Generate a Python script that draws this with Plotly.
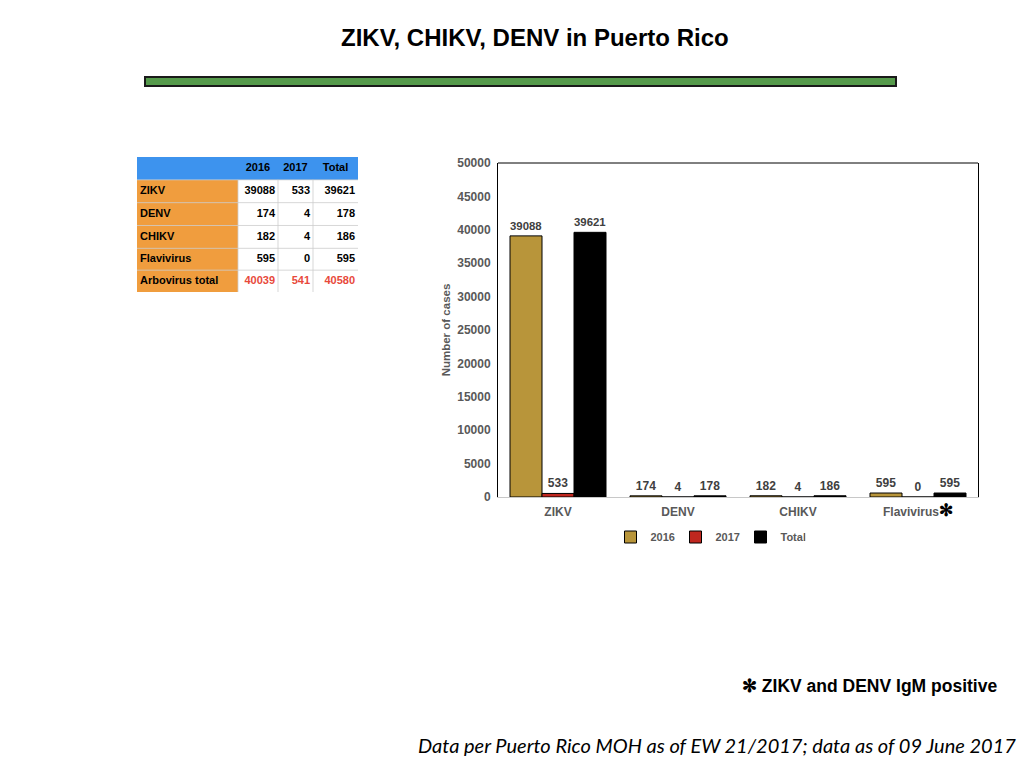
import plotly.graph_objects as go

categories = ["ZIKV", "DENV", "CHIKV", "Flavivirus"]
tick_labels = ["ZIKV", "DENV", "CHIKV", "Flavivirus<span style='color:#000000;font-size:17px'>✻</span>"]
series_names = ["2016", "2017", "Total"]
values_2016 = [39088, 174, 182, 595]
values_2017 = [533, 4, 4, 0]
values_total = [39621, 178, 186, 595]
colors = ["#b8953a", "#c0271f", "#000000"]

table_header = ["", "2016", "2017", "Total"]
table_rows = ["ZIKV", "DENV", "CHIKV", "Flavivirus", "Arbovirus total"]
table_2016 = [39088, 174, 182, 595, 40039]
table_2017 = [533, 4, 4, 0, 541]
table_total = [39621, 178, 186, 595, 40580]
y_ticks = [0, 5000, 10000, 15000, 20000, 25000, 30000, 35000, 40000, 45000, 50000]

# table layout (pixel widths/heights of columns and rows)
col_widths = [101, 40, 35, 45]
row_heights = [23, 23, 23, 23, 22, 22]

W, H = 1024, 768
def px(x):
    return x / W
def py(y):
    return 1 - y / H

gray = "#595959"
fig = go.Figure()

# ---------------- bar chart ----------------
for name, vals, col in zip(series_names, [values_2016, values_2017, values_total], colors):
    fig.add_trace(go.Bar(
        name="<b>%s</b>" % name, x=categories, y=vals,
        marker=dict(color=col, line=dict(color="#000000", width=1)),
        text=["<b>%d</b>" % v for v in vals], textposition="outside", cliponaxis=False,
        textfont=dict(family="Liberation Sans, Arial", size=12, color="#404040"),
        hoverinfo="x+y", xaxis="x", yaxis="y",
    ))

# ---------------- table (heatmap cells + text) ----------------
x_edges = [0]
for w in col_widths:
    x_edges.append(x_edges[-1] + w)
y_edges = [0]
for h in row_heights:
    y_edges.append(y_edges[-1] + h)
n = len(table_rows)
z = [[0, 0, 0, 0]] + [[1, 2, 2, 2] for _ in range(n)]
fig.add_trace(go.Heatmap(
    x=x_edges, y=y_edges, z=z, zmin=0, zmax=2,
    colorscale=[[0, "#3d93ee"], [0.5, "#f09d3e"], [1, "#ffffff"]],
    showscale=False, hoverinfo="skip", xaxis="x2", yaxis="y2",
))

# grid lines of the table
gx, gy = [], []
for yv in y_edges[1:-1]:
    gx += [x_edges[0], x_edges[-1], None]
    gy += [yv, yv, None]
for xv in x_edges[1:-1]:
    gx += [xv, xv, None]
    gy += [y_edges[1], y_edges[-1], None]
fig.add_trace(go.Scatter(
    x=gx, y=gy, mode="lines", line=dict(color="rgba(205,205,205,0.8)", width=1),
    showlegend=False, hoverinfo="skip", xaxis="x2", yaxis="y2",
))

row_centers = [(y_edges[i + 1] + y_edges[i + 2]) / 2 for i in range(n)]
num_colors = ["#000000"] * (n - 1) + ["#e8493b"]
tfont = dict(family="Liberation Sans, Arial", size=11)

# header text
fig.add_trace(go.Scatter(
    x=[(x_edges[i] + x_edges[i + 1]) / 2 for i in range(1, 4)],
    y=[(y_edges[0] + y_edges[1]) / 2] * 3,
    text=["<b>%s</b>" % t for t in table_header[1:]],
    mode="text", textposition="middle center",
    textfont=dict(color="#000000", **tfont),
    showlegend=False, hoverinfo="skip", xaxis="x2", yaxis="y2",
))
# row labels
fig.add_trace(go.Scatter(
    x=[x_edges[0] + 3] * n, y=row_centers,
    text=["<b>%s</b>" % r for r in table_rows],
    mode="text", textposition="middle right",
    textfont=dict(color="#000000", **tfont),
    showlegend=False, hoverinfo="skip", xaxis="x2", yaxis="y2",
))
# numbers
for ci, vals in enumerate([table_2016, table_2017, table_total], start=1):
    fig.add_trace(go.Scatter(
        x=[x_edges[ci + 1] - 3] * n, y=row_centers,
        text=["<b>%d</b>" % v for v in vals],
        mode="text", textposition="middle left",
        textfont=dict(color=num_colors, **tfont),
        showlegend=False, hoverinfo="skip", xaxis="x2", yaxis="y2",
    ))

fig.update_layout(
    width=W, height=H,
    margin=dict(l=0, r=0, t=0, b=0, pad=0, autoexpand=False),
    paper_bgcolor="#ffffff", plot_bgcolor="#ffffff",
    barmode="group", bargap=0.2, bargroupgap=0,
    font=dict(family="Liberation Sans, Arial", color=gray),
    showlegend=True,
    legend=dict(orientation="h", x=px(708), xanchor="center", y=py(537), yanchor="middle",
                font=dict(family="Liberation Sans, Arial", size=11, color=gray),
                itemwidth=30, entrywidth=20, traceorder="normal", tracegroupgap=0,
                bgcolor="rgba(0,0,0,0)"),
    xaxis=dict(domain=[px(498), px(978)], anchor="y",
               tickvals=categories, ticktext=["<b>%s</b>" % t for t in tick_labels],
               tickfont=dict(size=12, color=gray), ticklabelstandoff=4,
               showline=True, linecolor="#c8c8c8", linewidth=1, ticks="",
               showgrid=False, zeroline=False, fixedrange=True),
    yaxis=dict(domain=[py(497), py(163)], anchor="x", range=[0, 50000],
               tickvals=y_ticks, ticktext=["<b>%d</b>" % v for v in y_ticks],
               tickfont=dict(size=12, color=gray), ticklabelstandoff=4,
               showline=True, linecolor="#000000", linewidth=1, mirror=True,
               showgrid=False, zeroline=False, ticks="", fixedrange=True,
               title=dict(text="<b>Number of cases</b>", font=dict(size=11.5, color=gray), standoff=4)),
    xaxis2=dict(domain=[px(137), px(358)], anchor="y2", range=[x_edges[0], x_edges[-1]],
                visible=False, fixedrange=True),
    yaxis2=dict(domain=[py(292), py(157)], anchor="x2", range=[y_edges[-1], y_edges[0]],
                visible=False, fixedrange=True),
    shapes=[
        dict(type="line", xref="x domain", yref="y domain", x0=0, x1=1, y0=1, y1=1,
             line=dict(color="#000000", width=1)),
        dict(type="rect", xref="paper", yref="paper", x0=px(145), x1=px(896), y0=py(86), y1=py(77),
             fillcolor="#559a4b", line=dict(color="#1a1a1a", width=2)),
    ],
    annotations=[
        dict(text="<b>ZIKV, CHIKV, DENV in Puerto Rico</b>", xref="paper", yref="paper",
             x=px(535), y=py(37), xanchor="center", yanchor="middle", showarrow=False,
             font=dict(family="Liberation Sans, Arial", size=24, color="#000000")),
        dict(text="<b>✻ ZIKV and DENV IgM positive</b>", xref="paper", yref="paper",
             x=px(999), y=py(686), xanchor="right", yanchor="middle", showarrow=False,
             font=dict(family="Liberation Sans, Arial", size=17.5, color="#000000")),
        dict(text="<i>Data per Puerto Rico MOH as of EW 21/2017; data as of 09 June 2017</i>",
             xref="paper", yref="paper",
             x=px(1018), y=py(745), xanchor="right", yanchor="middle", showarrow=False,
             font=dict(family="Lato, Open Sans", size=20, color="#000000")),
    ],
)

post = """
document.body.style.margin = '0';
document.body.style.overflow = 'hidden';
"""

fig.write_html("out.html", config={"displayModeBar": False}, post_script=post)
